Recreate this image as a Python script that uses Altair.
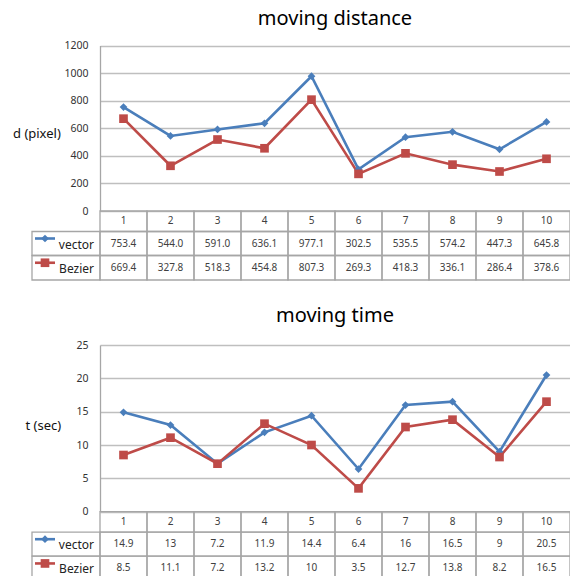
import altair as alt
import pandas as pd

# ---------------- data ----------------
runs = [1, 2, 3, 4, 5, 6, 7, 8, 9, 10]
series = ["vector", "Bezier"]
dist_vector = [753.4, 544.0, 591.0, 636.1, 977.1, 302.5, 535.5, 574.2, 447.3, 645.8]
dist_bezier = [669.4, 327.8, 518.3, 454.8, 807.3, 269.3, 418.3, 336.1, 286.4, 378.6]
time_vector = [14.9, 13, 7.2, 11.9, 14.4, 6.4, 16, 16.5, 9, 20.5]
time_bezier = [8.5, 11.1, 7.2, 13.2, 10, 3.5, 12.7, 13.8, 8.2, 16.5]
dist_ticks = [0, 200, 400, 600, 800, 1000, 1200]
time_ticks = [0, 5, 10, 15, 20, 25]
panel_titles = ["moving distance", "moving time"]
axis_titles = ["d (pixel)", "t (sec)"]

# ---------------- style / layout ----------------
COLORS = ["#4A7EBB", "#BE4B48"]
SHAPES = ["diamond", "square"]
GRID = "#BFBFBF"
BORDER = "#A6A6A6"
TXT = "#404040"
FONT = "Noto Sans"
LEFT = 100
PLOT_W = 470
H = 576
COL_PX = PLOT_W / len(runs)
LEG_LEFT = 0.5 - 68 / COL_PX  # legend column starts 68 px left of plot
LEG_LINE = (0.5 - 65 / COL_PX, 0.5 - 45 / COL_PX)
ROW_EDGES = [0, 20.5, 44.5, 69]

xscale = alt.Scale(domain=[0.5, 10.5], nice=False, zero=False)
color_scale = alt.Scale(domain=series, range=COLORS)
shape_scale = alt.Scale(domain=series, range=SHAPES)


def panel(vec, bez, ticks, fmt, title, ytitle, top, bottom, title_base, ytx, yty):
    layers = []
    ys = alt.Scale(domain=[0, ticks[-1]], range=[bottom, top], nice=False, zero=False)
    ts = alt.Scale(domain=[0, ROW_EDGES[-1]], range=[bottom, bottom + ROW_EDGES[-1]],
                   nice=False, zero=False)

    long = pd.DataFrame({
        "run": runs * 2,
        "series": ["vector"] * len(runs) + ["Bezier"] * len(runs),
        "value": list(vec) + list(bez),
    })

    base = alt.Chart(long)
    line = base.mark_line(strokeWidth=2.6).encode(
        x=alt.X("run:Q", scale=xscale, axis=None),
        y=alt.Y("value:Q", scale=ys, axis=alt.Axis(
            orient="left", values=ticks, format="d", grid=True, gridColor=GRID, gridWidth=1.3,
            domain=True, domainColor=BORDER, domainWidth=1.3, ticks=False, tickSize=0,
            labelPadding=12, labelFont=FONT, labelFontSize=10.5, labelColor="#333333",
            labelFlush=False, labelOverlap=False,
            title=ytitle, titleAngle=0, titleX=ytx - LEFT, titleY=yty,
            titleAlign="left", titleBaseline="middle", titleFont=FONT,
            titleFontSize=13, titleFontWeight="normal", titleColor="#111111")),
        color=alt.Color("series:N", scale=color_scale, legend=None),
        detail="series:N",
    )
    pts = base.mark_point(filled=True, opacity=1).encode(
        x=alt.X("run:Q", scale=xscale, axis=None),
        y=alt.Y("value:Q", scale=ys, axis=None),
        color=alt.Color("series:N", scale=color_scale, legend=None),
        shape=alt.Shape("series:N", scale=shape_scale, legend=None),
        size=alt.Size("series:N", scale=alt.Scale(domain=series, range=[60, 75]), legend=None),
    )
    layers += [line, pts]

    # table cells
    cells = []
    for r in range(3):
        for c in runs:
            cells.append({"x1": c - 0.5, "x2": c + 0.5, "r1": ROW_EDGES[r], "r2": ROW_EDGES[r + 1]})
    for r in (1, 2):
        cells.append({"x1": LEG_LEFT, "x2": 0.5, "r1": ROW_EDGES[r], "r2": ROW_EDGES[r + 1]})
    rects = alt.Chart(pd.DataFrame(cells)).mark_rect(
        fillOpacity=0, stroke=BORDER, strokeWidth=1.3
    ).encode(
        x=alt.X("x1:Q", scale=xscale, axis=None), x2="x2:Q",
        y=alt.Y("r1:Q", scale=ts, axis=None), y2="r2:Q",
    )
    layers.append(rects)

    centers = [(ROW_EDGES[i] + ROW_EDGES[i + 1]) / 2 for i in range(3)]
    texts = []
    for c in runs:
        texts.append({"x": c, "r": centers[0], "t": str(c)})
    for c, v in zip(runs, vec):
        texts.append({"x": c, "r": centers[1], "t": fmt(v)})
    for c, v in zip(runs, bez):
        texts.append({"x": c, "r": centers[2], "t": fmt(v)})
    tbl = alt.Chart(pd.DataFrame(texts)).mark_text(
        font=FONT, fontSize=10, color=TXT, baseline="middle", align="center"
    ).encode(
        x=alt.X("x:Q", scale=xscale, axis=None),
        y=alt.Y("r:Q", scale=ts, axis=None),
        text="t:N",
    )
    layers.append(tbl)

    # legend samples in the table
    leg = pd.DataFrame({
        "series": series,
        "a": [LEG_LINE[0]] * 2,
        "b": [LEG_LINE[1]] * 2,
        "m": [(LEG_LINE[0] + LEG_LINE[1]) / 2] * 2,
        "lx": [0.5, 0.5],
        "r": [centers[1], centers[2]],
    })
    lrule = alt.Chart(leg).mark_rule(strokeWidth=2.6, yOffset=-5).encode(
        x=alt.X("a:Q", scale=xscale, axis=None), x2="b:Q",
        y=alt.Y("r:Q", scale=ts, axis=None),
        color=alt.Color("series:N", scale=color_scale, legend=None),
    )
    lpt = alt.Chart(leg).mark_point(filled=True, opacity=1, yOffset=-5).encode(
        x=alt.X("m:Q", scale=xscale, axis=None),
        y=alt.Y("r:Q", scale=ts, axis=None),
        color=alt.Color("series:N", scale=color_scale, legend=None),
        shape=alt.Shape("series:N", scale=shape_scale, legend=None),
        size=alt.Size("series:N", scale=alt.Scale(domain=series, range=[55, 70]), legend=None),
    )
    ltxt = alt.Chart(leg).mark_text(
        font=FONT, fontSize=12, color="#222222", align="right", baseline="middle", dx=-6, dy=1
    ).encode(
        x=alt.X("lx:Q", scale=xscale, axis=None),
        y=alt.Y("r:Q", scale=ts, axis=None),
        text="series:N",
    )
    layers += [lrule, lpt, ltxt]

    ttl = alt.Chart(pd.DataFrame({"t": [title]})).mark_text(
        font=FONT, fontSize=20, color="#000000", align="center", baseline="alphabetic"
    ).encode(
        x=alt.X(datum=5.5, type="quantitative", scale=xscale, axis=None),
        y=alt.value(title_base),
        text="t:N",
    )
    layers.append(ttl)
    return layers


def fmt_dist(v):
    return f"{v:.1f}"


def fmt_time(v):
    return f"{v:g}"


layers = []
layers += panel(dist_vector, dist_bezier, dist_ticks, fmt_dist, panel_titles[0], axis_titles[0],
                top=45.5, bottom=211, title_base=24.5, ytx=12.5, yty=133)
layers += panel(time_vector, time_bezier, time_ticks, fmt_time, panel_titles[1], axis_titles[1],
                top=345, bottom=511.7, title_base=321.5, ytx=25, yty=425)

chart = alt.layer(*layers).resolve_scale(y="independent").properties(
    width=PLOT_W, height=H,
    padding={"left": LEFT, "top": 0, "right": 0, "bottom": 0},
    autosize=alt.AutoSizeParams(type="none"),
    background="white",
).configure_view(strokeWidth=0)

chart.save("out.html", embed_options={"renderer": "svg", "actions": False})
